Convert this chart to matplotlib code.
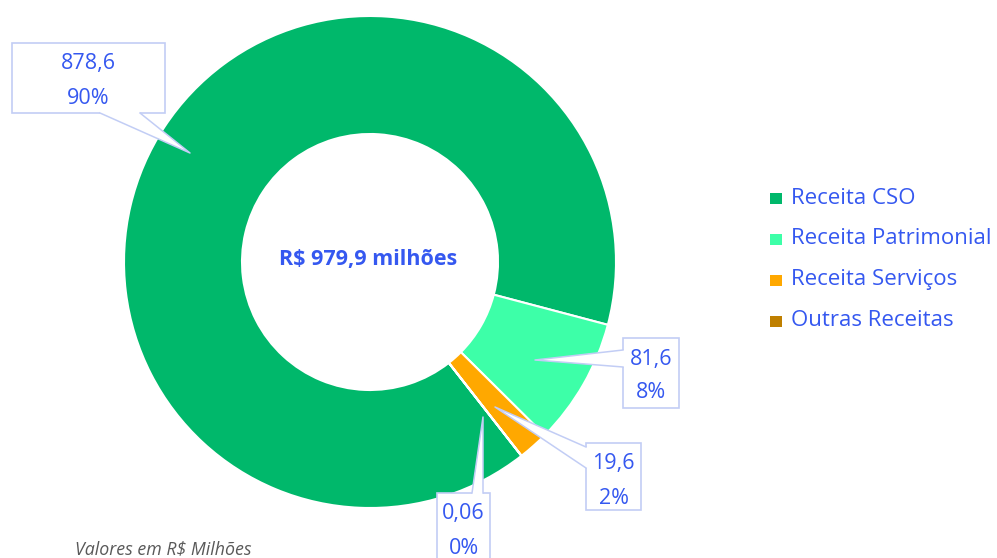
import matplotlib.pyplot as plt
from matplotlib.patches import Rectangle, Polygon
from matplotlib.lines import Line2D

categories = ["Receita CSO", "Receita Patrimonial", "Receita Serviços", "Outras Receitas"]
values = [878.6, 81.6, 19.6, 0.06]
value_labels = ["878,6", "81,6", "19,6", "0,06"]
pct_labels = ["90%", "8%", "2%", "0%"]
colors = ["#00B86B", "#3DFFA8", "#FFA800", "#BF7F00"]
total_label = "R$ 979,9 milhões"
footnote = "Valores em R$ Milhões"

W, H = 997, 558
fig = plt.figure(figsize=(W / 100, H / 100), dpi=100)
ax = fig.add_axes([0, 0, 1, 1])
ax.axis("off")

cx, cy = 370, H - 262
R, r_in = 246, 128
font = ["Open Sans", "DejaVu Sans"]
blue = "#3558F0"
edge = "#C2CDF5"

ax.pie(values, colors=colors, startangle=-52, counterclock=False,
       center=(cx, cy), radius=R,
       wedgeprops=dict(width=R - r_in, edgecolor="white", linewidth=1.5))
ax.set_xlim(0, W)
ax.set_ylim(0, H)
ax.set_aspect("equal")

def Y(y):
    return H - y

# callout boxes: (x0, x1, y0, y1) in pixel coords from top
boxes = [(12, 165, 43, 113), (623, 679, 338, 408), (586, 641, 443, 510), (437, 490, 493, 563)]
# pointer base (two points on box edge) + inward shift, and tip
bases = [((100, 113), (140, 113), (0, -3)),
         ((623, 350), (623, 367), (3, 0)),
         ((586, 447), (586, 468), (3, 0)),
         ((472, 493), (483, 493), (0, 3))]
tips = [(190, 153), (535, 360), (495, 407), (483, 417)]

for i in range(len(values)):
    x0, x1, y0, y1 = boxes[i]
    ax.add_patch(Rectangle((x0, Y(y1)), x1 - x0, y1 - y0, fc="white", ec=edge, lw=1.2, zorder=3))
    (bx1, by1), (bx2, by2), (sx, sy) = bases[i]
    tx, ty = tips[i]
    poly = [(bx1, Y(by1)), (tx, Y(ty)), (bx2, Y(by2)), (bx2 + sx, Y(by2 + sy)), (bx1 + sx, Y(by1 + sy))]
    ax.add_patch(Polygon(poly, closed=True, fc="white", ec="none", zorder=4))
    ax.add_line(Line2D([bx1, tx, bx2], [Y(by1), Y(ty), Y(by2)], color=edge, lw=1.1, zorder=5))
    ax.text((x0 + x1) / 2, Y(y0 + 21), value_labels[i], ha="center", va="center",
            fontsize=15.5, color=blue, family=font, zorder=6)
    ax.text((x0 + x1) / 2, Y(y0 + 55), pct_labels[i], ha="center", va="center",
            fontsize=15.5, color=blue, family=font, zorder=6)

ax.text(368, Y(260), total_label, ha="center", va="center", fontsize=15.5,
        fontweight="bold", color=blue, family=font)

# legend
leg_rows = [198, 239, 280, 321]
for c, lab, yy in zip(colors, categories, leg_rows):
    ax.add_patch(Rectangle((770, Y(yy) - 5.5), 12, 11, fc=c, ec="none"))
    ax.text(791, Y(yy), lab, ha="left", va="center", fontsize=16, color=blue, family=font)

ax.text(75, Y(549), footnote, ha="left", va="center", fontsize=12.8, style="italic",
        color="#595959", family=font)

fig.savefig("out.png", dpi=100)
